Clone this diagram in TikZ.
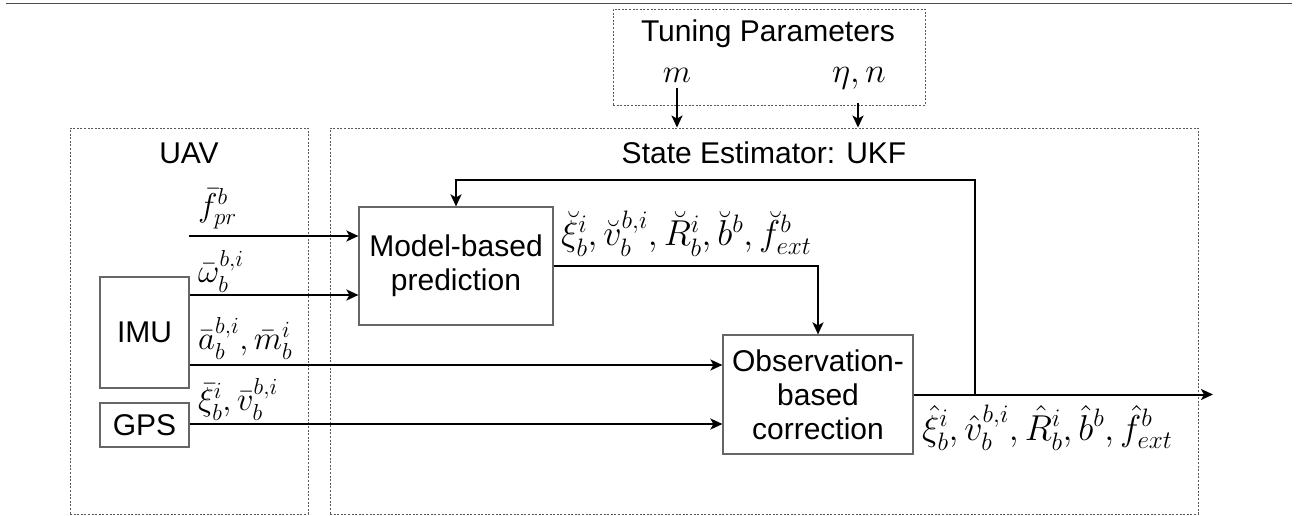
\documentclass[tikz,border=0pt]{standalone}
\usepackage{fontspec}
\setmainfont{Liberation Sans}
\usetikzlibrary{arrows.meta,calc}

% let the Computer Modern math fonts scale freely
\DeclareFontShape{OML}{cmm}{m}{it}{<-8.5>cmmi7<8.5-11>cmmi10<11->cmmi12}{}
\DeclareFontShape{OMS}{cmsy}{m}{n}{<-8.5>cmsy7<8.5->cmsy10}{}
\DeclareFontShape{OT1}{cmr}{m}{n}{<-8.5>cmr7<8.5-11>cmr10<11->cmr12}{}
\DeclareFontShape{OMX}{cmex}{m}{n}{<->cmex10}{}

\tikzset{
  grp/.style={draw=black!65, line width=0.9pt, dash pattern=on 2pt off 1.6pt, inner sep=0pt},
  blk/.style={draw=black!60, line width=1.2pt, fill=white, inner sep=0pt, align=center,
              font=\fontsize{30}{34}\selectfont},
  ttl/.style={inner sep=0pt, anchor=base, font=\fontsize{30}{34}\selectfont},
  lbl/.style={inner sep=0pt, font=\fontsize{33}{38}\selectfont},
  biglbl/.style={inner sep=0pt, font=\fontsize{36}{40}\selectfont},
  wire/.style={line width=2pt},
  sig/.style={wire, -{Stealth[length=12pt,width=11pt,inset=3pt]}},
}

\begin{document}
\begin{tikzpicture}[x=1pt,y=-1pt]
\useasboundingbox (0,0) rectangle (1303,516);

% rule across the top
\draw[line width=1.6pt, black!70] (6,3.5) -- (1292,3.5);

% grouping frames
\node[grp, minimum width=312pt, minimum height=96pt]  (tune) at (769,57) {};
\node[grp, minimum width=238pt, minimum height=386pt] (uav)  at (189,321) {};
\node[grp, minimum width=868pt, minimum height=386pt] (est)  at (764,321) {};

\node[ttl] (tunet) at (768,42)  {Tuning Parameters};
\node[ttl] (uavt)  at (189,163) {UAV};
\node[ttl] (estt)  at (764,163) {State Estimator: UKF};

% tuning parameters
\node[lbl, anchor=base] (m)   at (677,83) {$m$};
\node[lbl, anchor=base, font=\fontsize{35}{40}\selectfont] (eta) at (859,83) {$\eta, n$};

% sensors
\node[blk, minimum width=89pt, minimum height=111pt] (imu) at (144.5,332.5) {IMU};
\node[blk, minimum width=89pt, minimum height=44pt]  (gps) at (144.5,425) {GPS};

% filter stages
\node[blk, minimum width=194pt, minimum height=118pt] (pred) at (456,266) {Model-based\\prediction};
\node[blk, minimum width=190pt, minimum height=119pt] (obs)  at (818,394.5) {Observation-\\based\\correction};

% free ends and bends
\coordinate (fpr)  at (189,236);
\coordinate (mtop) at (677,88);
\coordinate (etop) at (858,103);
\coordinate (out)  at (1213,394.5);
\coordinate (tap)  at (975,394.5);
\coordinate (back) at (975,180);

% tuning inputs
\draw[sig] (mtop) -- (mtop |- est.north);
\draw[sig] (etop) -- (etop |- est.north);

% measurements
\draw[sig] (fpr) -- (fpr -| pred.west);
\draw[sig] (imu.east |- 0,295) -- (pred.west |- 0,295);
\draw[sig] (imu.east |- 0,365) -- (obs.west |- 0,365);
\draw[sig] (gps.east |- 0,424) -- (obs.west |- 0,424);

% prediction to correction
\draw[sig] (pred.east) -| (obs.north);

% estimate output and feedback
\draw[sig] (obs.east) -- (out);
\draw[sig] (tap) -- (back) -| (pred.north);

% signal labels
\node[lbl, anchor=south west] (lf) at (198,229) {$\bar{f}^b_{pr}$};
\node[lbl, anchor=south west] (lw) at (198,293) {$\bar{\omega}^{b,i}_b$};
\node[lbl, anchor=south west] (la) at (198,360) {$\bar{a}^{b,i}_b, \bar{m}^i_b$};
\node[lbl, anchor=south west] (lg) at (198,421) {$\bar{\xi}^i_b, \bar{v}^{b,i}_b$};
\node[biglbl, anchor=south west] (lp) at (561,257)
  {$\breve{\xi}^i_b, \breve{v}^{b,i}_b, \breve{R}^i_b, \breve{b}^b, \breve{f}^b_{ext}$};
\node[biglbl, anchor=north west] (lo) at (922,405)
  {$\hat{\xi}^i_b, \hat{v}^{b,i}_b, \hat{R}^i_b, \hat{b}^b, \hat{f}^b_{ext}$};
\end{tikzpicture}
\end{document}
